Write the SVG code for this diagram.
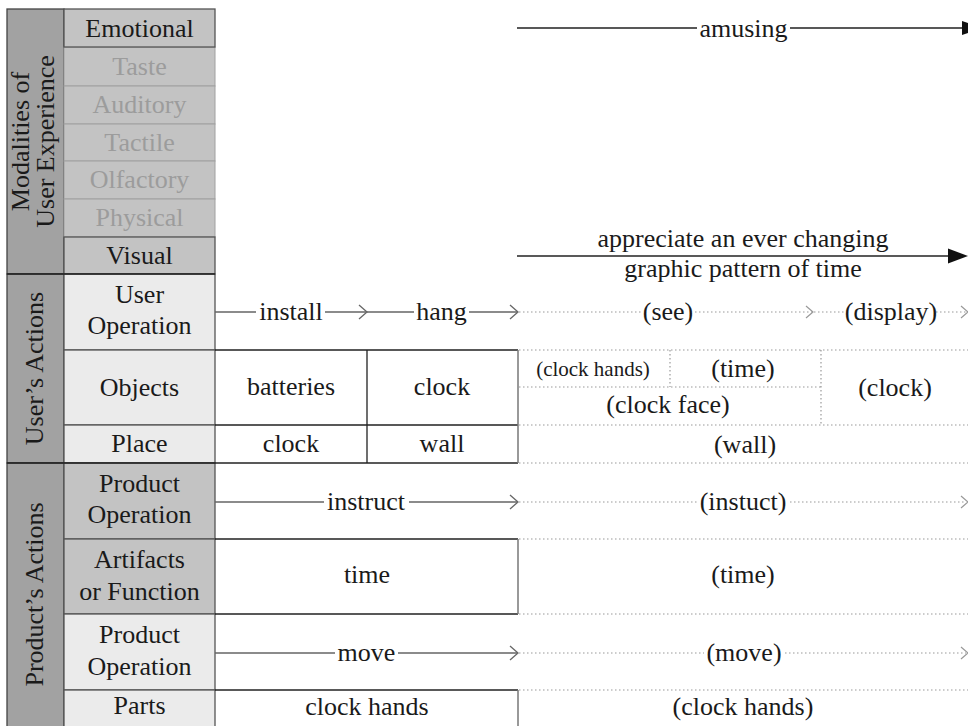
<svg xmlns="http://www.w3.org/2000/svg" width="968" height="726" viewBox="0 0 968 726" font-family="Liberation Serif, DejaVu Serif, serif">
<style>
text{font-size:26px;fill:#1a1a1a;text-anchor:middle}
.dim{fill:#9c9c9c}
.sm{font-size:21px}
.outer{fill:#a2a2a2;stroke:#444;stroke-width:1.3}
.mid{fill:#c3c3c3;stroke:#555;stroke-width:1.3}
.midl{fill:#c3c3c3;stroke:#a0a0a0;stroke-width:1}
.lite{fill:#ebebeb;stroke:#555;stroke-width:1.3}
.sol{stroke:#666;stroke-width:1.3;fill:none}
.blk{stroke:#222;stroke-width:1.3;fill:none}
.dot{stroke:#999;stroke-width:1.2;stroke-dasharray:1.5 2.5;fill:none}
.chev{stroke:#666;stroke-width:1.3;fill:none}
.chevd{stroke:#999;stroke-width:1.2;fill:none}
.head{fill:#111}
</style>
<rect width="968" height="726" fill="#fff"/>
<g id="left-column">
  <g id="modalities">
    <rect class="outer" x="7" y="9" width="57" height="265"/>
    <text transform="translate(29,141.5) rotate(-90)">Modalities of</text>
    <text transform="translate(54,141.5) rotate(-90)">User Experience</text>
  </g>
  <g id="row-taste"><rect class="midl" x="64" y="47" width="151" height="39"/><text class="dim" x="139.5" y="75">Taste</text></g>
  <g id="row-auditory"><rect class="midl" x="64" y="86" width="151" height="38"/><text class="dim" x="139.5" y="113">Auditory</text></g>
  <g id="row-tactile"><rect class="midl" x="64" y="124" width="151" height="37"/><text class="dim" x="139.5" y="151">Tactile</text></g>
  <g id="row-olfactory"><rect class="midl" x="64" y="161" width="151" height="38"/><text class="dim" x="139.5" y="188">Olfactory</text></g>
  <g id="row-physical"><rect class="midl" x="64" y="199" width="151" height="38"/><text class="dim" x="139.5" y="226">Physical</text></g>
  <g id="row-emotional"><rect class="mid" x="64" y="9" width="151" height="38"/><text x="139.5" y="37">Emotional</text></g>
  <g id="row-visual"><rect class="mid" x="64" y="237" width="151" height="37"/><text x="139.5" y="264">Visual</text></g>

  <g id="users-actions">
    <rect class="outer" x="7" y="274" width="57" height="189"/>
    <text transform="translate(43,368.5) rotate(-90)">User’s Actions</text>
  </g>
  <g id="row-user-operation"><rect class="lite" x="64" y="274" width="151" height="76"/><text x="139.5" y="303">User</text><text x="139.5" y="334">Operation</text></g>
  <g id="row-objects"><rect class="lite" x="64" y="350" width="151" height="75"/><text x="139.5" y="396">Objects</text></g>
  <g id="row-place"><rect class="lite" x="64" y="425" width="151" height="38"/><text x="139.5" y="452">Place</text></g>

  <g id="products-actions">
    <rect class="outer" x="7" y="463" width="57" height="270"/>
    <text transform="translate(43,594.5) rotate(-90)">Product’s Actions</text>
  </g>
  <g id="row-product-operation-1"><rect class="mid" x="64" y="463" width="151" height="76"/><text x="139.5" y="492">Product</text><text x="139.5" y="523">Operation</text></g>
  <g id="row-artifacts"><rect class="mid" x="64" y="539" width="151" height="75"/><text x="139.5" y="568">Artifacts</text><text x="139.5" y="600">or Function</text></g>
  <g id="row-product-operation-2"><rect class="lite" x="64" y="614" width="151" height="76"/><text x="139.5" y="643">Product</text><text x="139.5" y="675">Operation</text></g>
  <g id="row-parts"><rect class="lite" x="64" y="690" width="151" height="43"/><text x="139.5" y="714">Parts</text></g>
  <line class="blk" x1="7" y1="274" x2="215" y2="274"/>
  <line class="blk" x1="7" y1="463" x2="518" y2="463"/>
</g>

<g id="connectors">
  <path class="blk" d="M517 28H697M790 28H963"/>
  <polygon class="head" points="962,21 982,28 962,35"/>
  <path class="blk" d="M517 256H950"/>
  <polygon class="head" points="948,248.5 968,256 948,263.5"/>
  <path class="sol" d="M215 312H256M325 312H366"/>
  <path class="chev" d="M359 305L367 312L359 319"/>
  <path class="sol" d="M367 312H414M469 312H517"/>
  <path class="chev" d="M510 305L518 312L510 319"/>
  <path class="dot" d="M519 312H641M695 312H812"/>
  <path class="chevd" d="M806 306L813 312L806 318"/>
  <path class="dot" d="M814 312H846M936 312H966"/>
  <path class="chevd" d="M961 306L968 312L961 318"/>
  <path class="sol" d="M215 502H324M409 502H517"/>
  <path class="chev" d="M510 495L518 502L510 509"/>
  <path class="dot" d="M519 502H697M790 502H966"/>
  <path class="chevd" d="M961 496L968 502L961 508"/>
  <path class="sol" d="M215 653H335M398 653H517"/>
  <path class="chev" d="M510 646L518 653L510 660"/>
  <path class="dot" d="M519 653H704M785 653H966"/>
  <path class="chevd" d="M961 647L968 653L961 659"/>
</g>

<g id="labels">
  <text x="743.5" y="37">amusing</text>
  <text x="743" y="247">appreciate an ever changing</text>
  <text x="743" y="277">graphic pattern of time</text>
  <text x="291" y="320">install</text>
  <text x="441.5" y="320">hang</text>
  <text x="668" y="320">(see)</text>
  <text x="891" y="320">(display)</text>
  <text x="366" y="510">instruct</text>
  <text x="743" y="510">(instuct)</text>
  <text x="366.5" y="661">move</text>
  <text x="744" y="661">(move)</text>
</g>

<g id="objects-table">
  <path class="blk" d="M215 350H518M215 425H518M367 350V463"/>
  <line x1="518" y1="350" x2="518" y2="463" stroke="#777" stroke-width="1.5"/>
  <text x="291" y="395">batteries</text>
  <text x="442" y="395">clock</text>
  <text x="291" y="452">clock</text>
  <text x="442" y="452">wall</text>
</g>
<g id="objects-future">
  <path class="dot" d="M519 350H968M519 387H821M670 350V387M821 350V425M519 425H968M519 463H968"/>
  <text class="sm" x="593" y="376">(clock hands)</text>
  <text x="743" y="377">(time)</text>
  <text x="668" y="413">(clock face)</text>
  <text x="895" y="396">(clock)</text>
  <text x="745" y="453">(wall)</text>
</g>
<g id="artifacts-box">
  <path class="blk" d="M215 539H518M215 614H518"/>
  <line x1="518" y1="539" x2="518" y2="614" stroke="#777" stroke-width="1.5"/>
  <text x="367" y="583">time</text>
  <path class="dot" d="M519 539H968M519 614H968"/>
  <text x="743" y="583">(time)</text>
</g>
<g id="parts-box">
  <path class="blk" d="M215 690H518"/>
  <line x1="518" y1="690" x2="518" y2="726" stroke="#777" stroke-width="1.5"/>
  <text x="367" y="715">clock hands</text>
  <path class="dot" d="M519 690H968"/>
  <text x="743" y="715">(clock hands)</text>
</g>
</svg>
